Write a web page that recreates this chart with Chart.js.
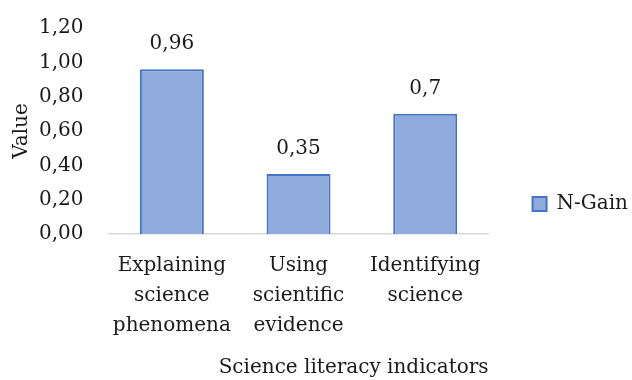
<!DOCTYPE html>
<html>
<head>
<meta charset="utf-8">
<script src="https://cdn.jsdelivr.net/npm/chart.js@4"></script>
<style>
  html, body { margin: 0; padding: 0; background: #fff; }
  #wrap { width: 632px; height: 380px; }
</style>
</head>
<body>
<div id="wrap"><canvas id="chart" width="632" height="380"></canvas></div>
<script>
const categories = [
  ['Explaining', 'science', 'phenomena'],
  ['Using', 'scientific', 'evidence'],
  ['Identifying', 'science'],
];
const nGain = [0.96, 0.35, 0.7];
const nGainLabels = ['0,96', '0,35', '0,7'];
const seriesName = 'N-Gain';

const FONT = "'DejaVu Serif', serif";
const SIZE = 20;
const TEXT = '#1a1a1a';

// draws the value above each bar
const valueLabels = {
  id: 'valueLabels',
  afterDatasetsDraw(chart) {
    const ctx = chart.ctx;
    const meta = chart.getDatasetMeta(0);
    ctx.save();
    ctx.font = SIZE + 'px ' + FONT;
    ctx.fillStyle = TEXT;
    ctx.textAlign = 'center';
    ctx.textBaseline = 'middle';
    meta.data.forEach((bar, i) => {
      ctx.fillText(nGainLabels[i], bar.x, bar.y - 25);
    });
    ctx.restore();
  },
};

new Chart(document.getElementById('chart'), {
  type: 'bar',
  data: {
    labels: categories,
    datasets: [
      {
        label: seriesName,
        data: nGain,
        backgroundColor: '#8faadc',
        borderColor: '#4472c4',
        borderWidth: 2,
        categoryPercentage: 1,
        barPercentage: 0.505,
      },
    ],
  },
  options: {
    responsive: false,
    animation: false,
    layout: { padding: { top: 28, right: -6, bottom: 0, left: 10 } },
    plugins: {
      tooltip: { enabled: false },
      legend: {
        position: 'right',
        labels: {
          font: { family: FONT, size: SIZE },
          color: TEXT,
          boxWidth: 14,
          boxHeight: 14,
          padding: 44,
        },
      },
    },
    scales: {
      x: {
        grid: { display: false, drawTicks: false },
        border: { display: true, color: '#d9d9d9', width: 1.5 },
        ticks: {
          font: { family: FONT, size: SIZE, lineHeight: 1.5 },
          color: TEXT,
          padding: 17,
          maxRotation: 0,
        },
        title: {
          display: true,
          text: 'Science literacy indicators',
          align: 'end',
          font: { family: FONT, size: SIZE },
          color: TEXT,
          padding: { top: -2, bottom: 0 },
        },
      },
      y: {
        min: 0,
        max: 1.2,
        grid: { display: false, drawTicks: false },
        border: { display: false },
        afterFit: (axis) => {
          axis.paddingTop = 0;
        },
        ticks: {
          stepSize: 0.2,
          font: { family: FONT, size: SIZE },
          color: TEXT,
          padding: 25,
          callback: (v) => v.toFixed(2).replace('.', ','),
        },
        title: {
          display: true,
          text: 'Value',
          font: { family: FONT, size: SIZE },
          color: TEXT,
          padding: { top: 0, bottom: -20 },
        },
      },
    },
  },
  plugins: [valueLabels],
});
</script>
</body>
</html>
